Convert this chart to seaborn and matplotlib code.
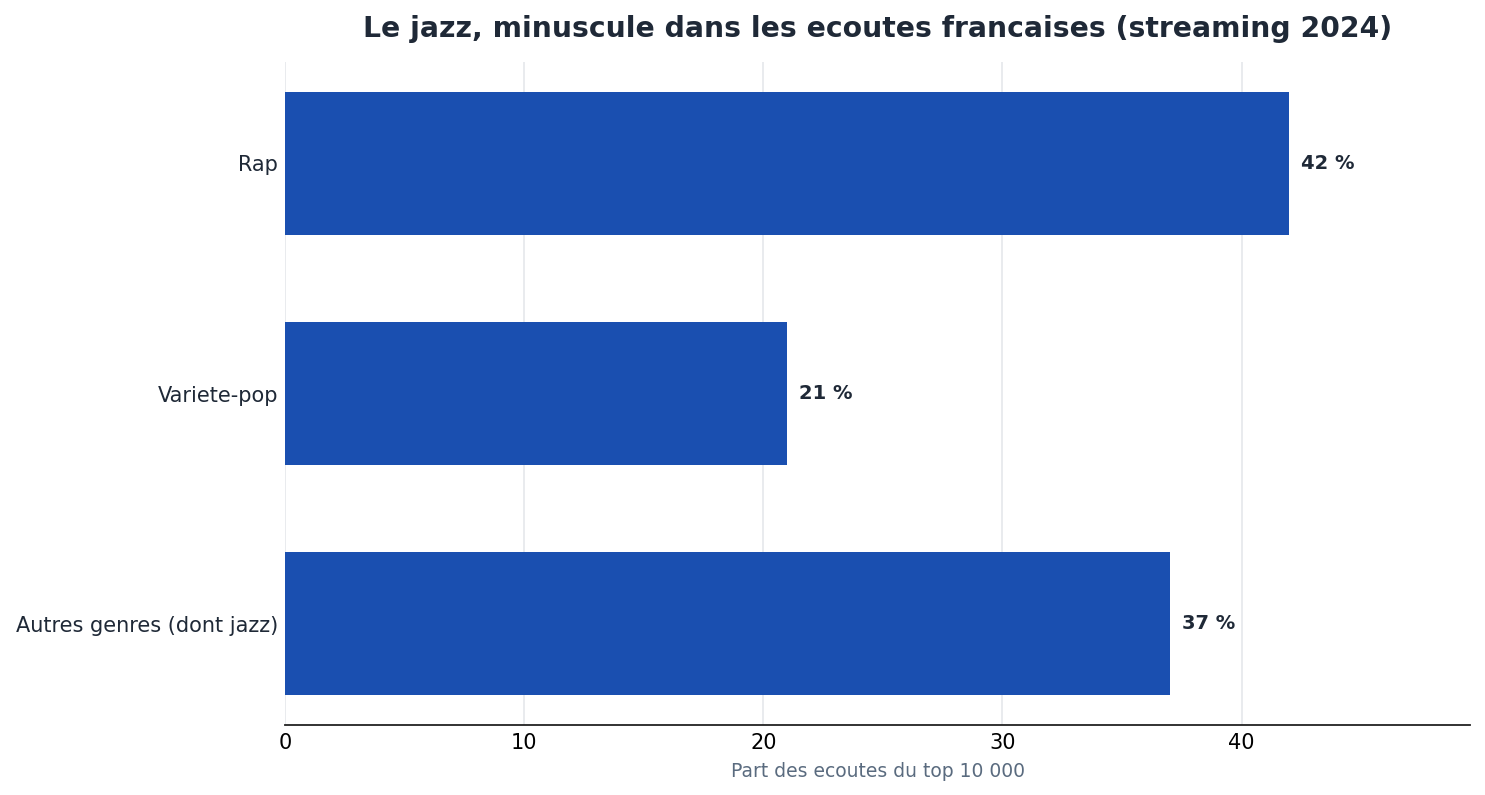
import matplotlib
matplotlib.use("Agg")
import matplotlib.pyplot as plt
import seaborn as sns
import pandas as pd

genres = ["Rap", "Variete-pop", "Autres genres (dont jazz)"]
parts = [42, 21, 37]

df = pd.DataFrame({"genre": genres, "part": parts})

sns.set_style("white")
plt.rcParams['font.family'] = ['DejaVu Sans']

fig, ax = plt.subplots(figsize=(14.85, 7.95), dpi=100)
sns.barplot(x="part", y="genre", data=df, orient="h", color="#1a4fb0",
            saturation=1, width=0.62, linewidth=0, ax=ax, zorder=3)

for i, v in enumerate(parts):
    ax.text(v + 0.5, i, f"{v} %", va="center", ha="left",
            fontsize=14, fontweight="bold", color="#1f2937")

ax.set_xlim(0, max(parts) * 1.18)
ax.set_ylim(2.441, -0.441)
ax.xaxis.grid(True, color="#e5e7eb", linewidth=1.2, zorder=0)
ax.set_axisbelow(True)
for s in ["top", "right", "left"]:
    ax.spines[s].set_visible(False)
ax.spines["bottom"].set_color("#222222")
ax.spines["bottom"].set_linewidth(1.3)
ax.tick_params(axis="x", labelsize=15, colors="black", length=0, pad=6)
ax.tick_params(axis="y", labelsize=15, labelcolor="#1f2937", length=0, pad=5)

ax.set_title("Le jazz, minuscule dans les ecoutes francaises (streaming 2024)",
             fontsize=20.3, fontweight="bold", color="#1f2937", pad=18)
ax.set_xlabel("Part des ecoutes du top 10 000", fontsize=13.5, color="#5a6b7f",
              labelpad=6)
ax.set_ylabel("")

plt.subplots_adjust(left=0.192, right=0.99, top=0.922, bottom=0.088)
plt.savefig("out.png", dpi=100)
